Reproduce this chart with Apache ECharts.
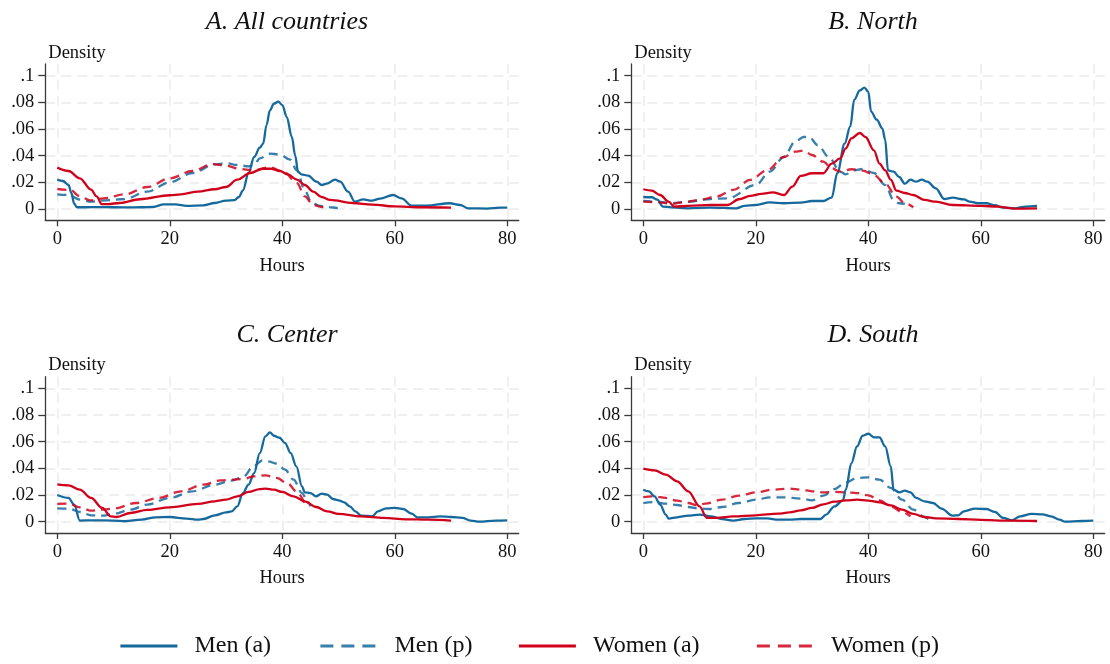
<!DOCTYPE html>
<html>
<head>
<meta charset="utf-8">
<title>Weekly hours densities</title>
<script src="https://cdn.jsdelivr.net/npm/echarts@6/dist/echarts.min.js"></script>
<style>
  html, body { margin: 0; padding: 0; background: #ffffff; }
  #chart { width: 1110px; height: 664px; }
</style>
</head>
<body>
<div id="chart"></div>
<script>
// Tick positions and labels
const hoursTicks = [0, 20, 40, 60, 80];
const densityTicks = [0, 0.02, 0.04, 0.06, 0.08, 0.1];
const seriesNames = ['Men (a)', 'Men (p)', 'Women (a)', 'Women (p)'];
const panelTitles = ['A. All countries', 'B. North', 'C. Center', 'D. South'];

// A. All countries: [hours, density]
const allMenActual = [[0,0.022],[1,0.021],[2,0.018],[2.5,0.012],[3,0.004],[3.5,0.0013],[5,0.0013],[8,0.0014],[12,0.0012],[15,0.0013],[17,0.0015],[19,0.0035],[21,0.0035],[23,0.0024],[26,0.0027],[28,0.0045],[30,0.0063],[31.5,0.0066],[32.3,0.009],[33,0.014],[34,0.027],[35,0.039],[36,0.046],[36.6,0.049],[37.2,0.063],[37.8,0.074],[38.5,0.079],[39.3,0.0805],[40,0.078],[40.8,0.069],[41.7,0.054],[42.3,0.04],[42.8,0.028],[43.4,0.026],[44.6,0.025],[46.1,0.0205],[47,0.018],[47.9,0.019],[49.4,0.022],[50.3,0.0205],[51.7,0.013],[52.9,0.0055],[54.4,0.0072],[55.9,0.0062],[57.4,0.0078],[59.7,0.0105],[61.2,0.008],[63,0.0025],[65.6,0.0025],[69.8,0.0043],[71.6,0.003],[73.1,0.0005],[76.4,0.0003],[78.7,0.001],[80,0.001]];
const allMenPotential = [[0,0.011],[2,0.0105],[4,0.007],[6,0.0055],[8,0.0063],[12,0.0075],[16,0.013],[20,0.02],[24,0.027],[28,0.0335],[30,0.0343],[32,0.033],[34,0.032],[35,0.033],[36,0.038],[37.8,0.0415],[39.5,0.041],[41.4,0.037],[42.6,0.029],[44,0.014],[45.2,0.005],[46.5,0.0025],[48,0.0015],[50,0.0007],[51,0.0004]];
const allWomenActual = [[0,0.031],[2,0.0285],[4,0.023],[6,0.0145],[7,0.0095],[7.9,0.0037],[9,0.0037],[11.1,0.0045],[14.7,0.0073],[20,0.0103],[22,0.011],[25,0.013],[28,0.0148],[30,0.0165],[32,0.022],[34.3,0.027],[36.5,0.0302],[38,0.0302],[39.6,0.0285],[41,0.026],[42.6,0.022],[44,0.018],[45.5,0.013],[47,0.009],[48.5,0.0068],[52.5,0.0045],[56,0.0033],[60,0.0019],[64.5,0.0013],[70,0.001]];
const allWomenPotential = [[0,0.015],[2.3,0.0143],[4,0.0095],[5.8,0.0065],[8.2,0.008],[12,0.011],[16,0.0165],[20,0.023],[24,0.0285],[27.7,0.0337],[30,0.0325],[32.5,0.03],[34.8,0.029],[37.8,0.0313],[40.2,0.028],[42.6,0.0195],[44,0.0095],[45.5,0.003],[47,0.0015],[48,0.0012]];

// B. North
const northMenActual = [[0,0.009],[1.5,0.0088],[2.5,0.007],[3.5,0.0018],[5,0.0012],[8,0.0005],[12,0.001],[16.5,0.0005],[18,0.0023],[20,0.003],[22.5,0.005],[25,0.0043],[28,0.0048],[30,0.006],[32,0.006],[33.5,0.0085],[34.5,0.027],[35.8,0.049],[36.8,0.062],[37.5,0.082],[38.5,0.089],[39.3,0.091],[40,0.088],[40.5,0.073],[41.5,0.067],[42.5,0.0605],[43,0.052],[43.5,0.029],[44.5,0.028],[45.5,0.024],[46.5,0.019],[47.5,0.022],[48.5,0.0205],[49.5,0.022],[50.5,0.0205],[52,0.0155],[53.5,0.0075],[55,0.0085],[57,0.0072],[58,0.0055],[59.5,0.0043],[61,0.0043],[62.5,0.0028],[64,0.001],[66,0.0005],[68,0.0018],[70,0.0023]];
const northMenPotential = [[0,0.006],[3,0.0053],[5,0.0043],[8,0.0055],[12,0.0075],[15,0.008],[20,0.018],[22.5,0.028],[25,0.039],[27,0.0505],[28.5,0.054],[29.5,0.054],[31,0.048],[33,0.039],[35,0.028],[36,0.026],[37.5,0.029],[39,0.03],[41,0.027],[43,0.018],[44.5,0.0068],[45.5,0.0043],[46.5,0.0038]];
const northWomenActual = [[0,0.0148],[1.5,0.0138],[3,0.0105],[4.5,0.0055],[5.5,0.0018],[8,0.0023],[12,0.003],[15,0.003],[17,0.0073],[19,0.0098],[21,0.0113],[23,0.0125],[25,0.0105],[26.5,0.0168],[28,0.0248],[30,0.0268],[32,0.0268],[33.5,0.034],[35,0.038],[36,0.0455],[37,0.053],[38.5,0.057],[39.5,0.054],[41,0.044],[42,0.034],[43,0.029],[44,0.022],[45,0.0138],[46.5,0.012],[48,0.0105],[50,0.0068],[52,0.0055],[55,0.003],[60,0.0023],[63,0.0018],[66,0.0003],[70,0.0005]];
const northWomenPotential = [[0,0.0055],[3,0.005],[5,0.0038],[7,0.005],[10,0.0068],[13,0.0093],[16,0.0143],[19,0.0218],[22,0.029],[25,0.039],[27,0.043],[28.5,0.0438],[30,0.0405],[32,0.0355],[33.5,0.0305],[35,0.028],[37,0.0298],[39,0.0288],[41,0.0255],[43,0.019],[45,0.0093],[46.5,0.0043],[48,0.0013]];

// C. Center
const centerMenActual = [[0,0.02],[2,0.0178],[3,0.0128],[4,0.0008],[6,0.001],[10,0.0008],[12,0.0003],[15,0.0015],[17.5,0.0033],[20,0.0035],[23,0.0023],[25,0.0015],[26,0.002],[28,0.0048],[30,0.007],[31,0.0078],[32,0.0115],[33,0.0215],[34,0.0278],[35,0.0365],[36,0.0515],[37,0.064],[37.8,0.067],[38.5,0.0645],[39.5,0.063],[40.5,0.059],[41.5,0.0515],[42.5,0.0415],[43.5,0.0265],[44,0.022],[45,0.0215],[46,0.019],[47,0.021],[48,0.0203],[49,0.017],[50,0.016],[51,0.0145],[52,0.0115],[53,0.0078],[54,0.0045],[56,0.004],[57,0.0078],[58.5,0.01],[60,0.0103],[61.5,0.0095],[63,0.006],[64,0.0033],[66,0.0033],[68,0.004],[70,0.0035],[72,0.0028],[73.5,0.0008],[75,0],[78,0.0008],[80,0.001]];
const centerMenPotential = [[0,0.01],[2,0.0098],[4,0.0073],[6,0.0048],[8,0.0045],[10,0.0058],[13,0.009],[16,0.0128],[20,0.0178],[24,0.0228],[28,0.0278],[31,0.0308],[33,0.0335],[35,0.042],[36.5,0.046],[37.5,0.0453],[39,0.0435],[40.5,0.039],[42,0.0315],[43.5,0.0215],[44.5,0.0153],[45,0.0115]];
const centerWomenActual = [[0,0.028],[2,0.0273],[4,0.024],[6,0.0178],[8,0.0103],[9.5,0.004],[10.5,0.0035],[13,0.0065],[16,0.0088],[20,0.0108],[25,0.0133],[28,0.0153],[30,0.0165],[32,0.019],[34,0.0223],[36,0.0245],[37,0.0248],[38.5,0.024],[40,0.0223],[42,0.019],[44,0.0153],[46,0.011],[48,0.0078],[50,0.0058],[54,0.004],[58,0.0028],[62,0.0018],[66,0.0015],[70,0.0008]];
const centerWomenPotential = [[0,0.0133],[2,0.0135],[4,0.0108],[6,0.0083],[8,0.009],[10,0.0098],[14,0.014],[18,0.0178],[22,0.0228],[26,0.0278],[29,0.031],[31,0.0315],[33,0.032],[35,0.034],[37,0.0348],[39,0.0328],[41,0.0285],[42.5,0.0228],[44,0.0135]];

// D. South
const southMenActual = [[0,0.024],[1,0.0228],[2,0.019],[3,0.0128],[4,0.0053],[4.5,0.0023],[6,0.0033],[8,0.0045],[10,0.0053],[12,0.004],[14,0.002],[16,0.0008],[18,0.002],[20,0.0025],[22,0.0025],[24,0.0015],[26,0.0015],[28,0.002],[30,0.002],[31.5,0.002],[32.5,0.0053],[34,0.0115],[35.5,0.016],[36,0.024],[37,0.044],[38,0.0565],[39,0.0645],[40,0.066],[41,0.0633],[42,0.0633],[43,0.0565],[44,0.0415],[44.5,0.024],[45.5,0.022],[46.5,0.0233],[47.5,0.022],[48.5,0.0178],[50,0.0153],[51.5,0.014],[53,0.0098],[55,0.0045],[56,0.0048],[57,0.0078],[59,0.0098],[61,0.0095],[62.5,0.0073],[64,0.0028],[65.5,0.001],[67,0.004],[69,0.0058],[71,0.0055],[72.5,0.004],[74,0.0015],[75,0],[78,0.0005],[80,0.0008]];
const southMenPotential = [[0,0.014],[2,0.0148],[4,0.0135],[6,0.0125],[8,0.011],[10,0.0098],[12,0.0095],[14,0.011],[17,0.014],[20,0.0165],[22.5,0.0183],[25,0.0183],[28,0.0173],[30,0.016],[32,0.0195],[34,0.0245],[36,0.0295],[38,0.0328],[40,0.0333],[42,0.0315],[44,0.0253],[46,0.0165],[48,0.009],[50,0.0035],[51,0.001]];
const southWomenActual = [[0,0.0398],[2,0.0385],[4,0.0353],[6,0.0303],[8,0.0228],[10,0.0115],[11.3,0.0028],[13,0.0028],[16,0.004],[20,0.0048],[24,0.006],[26,0.007],[28,0.0085],[30,0.0103],[32,0.013],[34,0.015],[36,0.016],[38,0.0165],[40,0.0158],[42,0.0145],[44,0.0123],[46,0.009],[48,0.0058],[50,0.0035],[52,0.0025],[56,0.002],[60,0.0013],[65,0.0008],[70,0.0005]];
const southWomenPotential = [[0,0.0185],[2,0.019],[4,0.0178],[6,0.0158],[8,0.014],[9.5,0.0123],[11,0.0135],[14,0.0165],[17,0.0195],[20,0.022],[23,0.024],[26,0.0248],[28,0.024],[30,0.0228],[32,0.022],[34,0.0223],[36,0.022],[38,0.0215],[40,0.0198],[42,0.016],[44,0.0115],[46,0.0073],[47.5,0.004]];

const panelSeries = [
  [allMenActual, allMenPotential, allWomenActual, allWomenPotential],
  [northMenActual, northMenPotential, northWomenActual, northWomenPotential],
  [centerMenActual, centerMenPotential, centerWomenActual, centerWomenPotential],
  [southMenActual, southMenPotential, southWomenActual, southWomenPotential]
];

// Styling
const BLUE = '#15699c';
const RED = '#d0021b';
const seriesStyle = [
  { color: BLUE, type: 'solid', keyType: 'solid', opacity: 1 },
  { color: BLUE, type: [9, 6], keyType: [13, 8], opacity: 0.85 },
  { color: RED, type: 'solid', keyType: 'solid', opacity: 1 },
  { color: RED, type: [9, 6], keyType: [13, 8], opacity: 0.85 }
];
const SERIF = '"Liberation Serif", "Times New Roman", "DejaVu Serif", serif';
const AXIS_COLOR = '#3a3a3a';
const GRID_COLOR = '#ebebeb';

// Panel geometry (px)
const PLOT_W = 473.4, PLOT_H = 156.3;
const panelLeft = [45.3, 631.3, 45.3, 631.3];
const panelTop = [64, 64, 376.7, 376.7];
const titleY = [20, 20, 333, 333];
// left edge of each legend key
const legendLeft = [119, 319, 517.5, 755.5];

const grids = [], xAxes = [], yAxes = [], series = [], titles = [];

panelTitles.forEach((t, i) => {
  grids.push({ left: panelLeft[i], top: panelTop[i], width: PLOT_W, height: PLOT_H, containLabel: false });
  titles.push({
    text: t,
    left: panelLeft[i] + PLOT_W / 2,
    top: titleY[i] - 16,
    textAlign: 'center',
    textStyle: { fontFamily: SERIF, fontStyle: 'italic', fontWeight: 'normal', fontSize: 26, color: '#111' }
  });
  xAxes.push({
    type: 'value', gridIndex: i, min: -2.13, max: 82.03,
    name: 'Hours', nameLocation: 'middle', nameGap: 45.4,
    nameTextStyle: { fontFamily: SERIF, fontSize: 18.5, color: '#111', verticalAlign: 'middle' },
    axisLine: { show: true, onZero: false, lineStyle: { color: AXIS_COLOR, width: 1.3 } },
    axisTick: { show: true, customValues: hoursTicks, length: 6, lineStyle: { color: AXIS_COLOR, width: 1.3 } },
    axisLabel: { customValues: hoursTicks, margin: 19, verticalAlign: 'middle', fontFamily: SERIF, fontSize: 18.5, color: '#111' },
    splitLine: { show: true, lineStyle: { color: GRID_COLOR, width: 1.5, type: [10, 6] } }
  });
  yAxes.push({
    type: 'value', gridIndex: i, min: -0.0085, max: 0.1088,
    name: 'Density', nameLocation: 'end', nameGap: 11.3,
    nameTextStyle: { fontFamily: SERIF, fontSize: 18.5, color: '#111', align: 'left', verticalAlign: 'middle', padding: [0, 0, 0, 3] },
    axisLine: { show: true, onZero: false, lineStyle: { color: AXIS_COLOR, width: 1.3 } },
    axisTick: { show: true, customValues: densityTicks, length: 7, lineStyle: { color: AXIS_COLOR, width: 1.3 } },
    axisLabel: {
      customValues: densityTicks, margin: 11, fontFamily: SERIF, fontSize: 18.5, color: '#111',
      formatter: v => (v === 0 ? '0' : String(+v.toFixed(2)).replace(/^0/, ''))
    },
    splitLine: { show: true, lineStyle: { color: GRID_COLOR, width: 1.5, type: [10, 6] } }
  });
  panelSeries[i].forEach((data, k) => {
    const st = seriesStyle[k];
    series.push({
      name: seriesNames[k], type: 'line', xAxisIndex: i, yAxisIndex: i,
      data: data, showSymbol: false, symbol: 'none',
      smooth: 0.35, smoothMonotone: 'x',
      color: st.color,
      lineStyle: { color: st.color, width: 2.3, type: st.type, opacity: st.opacity },
      emphasis: { disabled: true },
      silent: true
    });
  });
});

// One legend block per key so each can sit at its own column position
const legends = seriesNames.map((name, k) => ({
  data: [name],
  left: legendLeft[k], top: 634, padding: 0,
  itemWidth: 57, itemHeight: 12,
  selectedMode: false,
  itemStyle: { opacity: 0 },        // line sample only, no point marker
  lineStyle: { width: 2.8, type: seriesStyle[k].keyType },
  textStyle: { fontFamily: SERIF, fontSize: 24, color: '#111', padding: [0, 0, 0, 12] }
}));

const chart = echarts.init(document.getElementById('chart'), null, { renderer: 'canvas' });
chart.setOption({
  backgroundColor: '#ffffff',
  animation: false,
  title: titles,
  grid: grids,
  xAxis: xAxes,
  yAxis: yAxes,
  legend: legends,
  series: series
});
</script>
</body>
</html>
